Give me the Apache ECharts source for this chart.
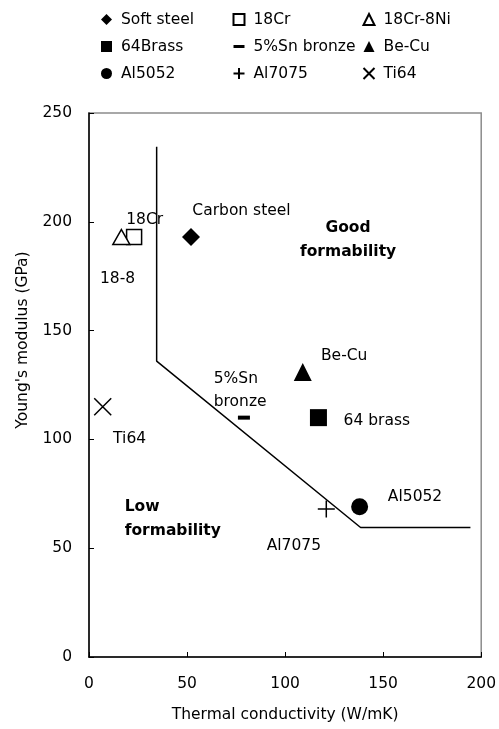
<!DOCTYPE html>
<html>
<head>
<meta charset="utf-8">
<script src="https://cdn.jsdelivr.net/npm/echarts@6/dist/echarts.min.js"></script>
<style>html,body{margin:0;padding:0;background:#fff}#c{width:499px;height:729px}</style>
</head>
<body>
<div id="c"></div>
<script>
// ---- data ----
const seriesNames = ['Soft steel', '18Cr', '18Cr-8Ni', '64Brass', '5%Sn bronze', 'Be-Cu', 'Al5052', 'Al7075', 'Ti64'];
const conductivity = [52, 23, 16.5, 117, 79, 109, 138, 121, 7];
const modulus = [193, 193, 193, 110, 110, 131, 69, 68, 115];

const boundaryX = [34.5, 34.5, 138.5, 194.5];
const boundaryY = [234.5, 136, 59.5, 59.5];

const annotTexts = ['18Cr', 'Carbon steel', '18-8', 'Ti64', 'Be-Cu', '5%Sn\nbronze', '64 brass', 'Al5052', 'Al7075'];
const annotX = [19.0, 52.7, 5.6, 12.3, 118.3, 63.6, 129.8, 152.4, 90.6];
const annotY = [200.8, 205.1, 173.7, 100.0, 138.5, 122.7, 108.6, 73.4, 51.1];

const regionTexts = ['Good\nformability', 'Low\nformability'];
const regionX = [132.1, 18.2];
const regionY = [191.6, 63.4];

const xTicks = [0, 50, 100, 150, 200];
const yTicks = [0, 50, 100, 150, 200, 250];

const legendCols = [
  ['Soft steel', '64Brass', 'Al5052'],
  ['18Cr', '5%Sn bronze', 'Al7075'],
  ['18Cr-8Ni', 'Be-Cu', 'Ti64']
];

// ---- styles ----
const FONT = '"DejaVu Sans", "Noto Sans", sans-serif';
const symbolStyles = {
  'Soft steel': {symbol: 'diamond', size: 18, fill: '#000'},
  '18Cr': {symbol: 'rect', size: 15, fill: '#fff', border: 1.5},
  '18Cr-8Ni': {symbol: 'triangle', size: [17, 15], fill: '#fff', border: 1.5},
  '64Brass': {symbol: 'rect', size: 17, fill: '#000'},
  '5%Sn bronze': {symbol: 'rect', size: [12, 4], fill: '#000'},
  'Be-Cu': {symbol: 'triangle', size: [18, 18], fill: '#000'},
  'Al5052': {symbol: 'circle', size: 17, fill: '#000'},
  'Al7075': {symbol: 'path://M0,5H10M5,0V10', size: 17, fill: 'none', border: 1.5},
  'Ti64': {symbol: 'path://M0,0L10,10M10,0L0,10', size: 17, fill: 'none', border: 1.5}
};

const series = seriesNames.map((name, i) => {
  const st = symbolStyles[name];
  return {
    name: name,
    type: 'scatter',
    symbol: st.symbol,
    symbolSize: st.size,
    itemStyle: {
      color: st.fill,
      borderColor: '#000',
      borderWidth: st.border || 0,
      opacity: 1
    },
    emphasis: {disabled: true},
    data: [[conductivity[i], modulus[i]]],
    z: 5
  };
});

series.push({
  name: 'boundary',
  type: 'line',
  data: boundaryX.map((x, i) => [x, boundaryY[i]]),
  symbol: 'none',
  lineStyle: {color: '#000', width: 1.5},
  emphasis: {disabled: true},
  z: 3
});

series.push({
  name: 'annotations',
  type: 'scatter',
  symbolSize: 0,
  silent: true,
  itemStyle: {opacity: 1, color: '#000'},
  data: annotX.map((x, i) => ({value: [x, annotY[i]], label: {formatter: annotTexts[i]}})),
  label: {
    show: true, position: 'inside', align: 'left', verticalAlign: 'middle',
    color: '#000', fontSize: 15.5, fontFamily: FONT, lineHeight: 23,
    textBorderWidth: 0, opacity: 1
  },
  z: 6
});

series.push({
  name: 'regions',
  type: 'scatter',
  symbolSize: 0,
  silent: true,
  itemStyle: {opacity: 1, color: '#000'},
  data: regionX.map((x, i) => ({value: [x, regionY[i]], label: {formatter: regionTexts[i], align: i === 0 ? 'center' : 'left'}})),
  label: {
    show: true, position: 'inside', verticalAlign: 'middle',
    color: '#000', fontSize: 15.5, fontWeight: 'bold', fontFamily: FONT, lineHeight: 24,
    textBorderWidth: 0, opacity: 1
  },
  z: 6
});

const legendLefts = [101, 231, 361];
const legends = legendCols.map((col, k) => ({
  orient: 'vertical',
  left: legendLefts[k],
  top: 11,
  itemWidth: 11,
  itemHeight: 11,
  itemGap: 10,
  padding: 0,
  selectedMode: false,
  data: col.map(n => n === '5%Sn bronze' ? {name: n, icon: 'path://M0,0H4V1.1H0Z'} : n),
  textStyle: {fontSize: 15.5, fontFamily: FONT, color: '#000', lineHeight: 17, padding: [0, 0, 0, 4]}
}));

const option = {
  animation: false,
  backgroundColor: '#fff',
  legend: legends,
  grid: {left: 89, right: 14, top: 113, bottom: 72, show: true, borderColor: '#8c8c8c', borderWidth: 1.5, containLabel: false},
  xAxis: {
    type: 'value', min: xTicks[0], max: xTicks[xTicks.length - 1], interval: 50,
    name: 'Thermal conductivity (W/mK)', nameLocation: 'middle', nameGap: 50,
    nameTextStyle: {fontSize: 15.5, fontFamily: FONT, color: '#000'},
    axisLine: {show: true, lineStyle: {color: '#000', width: 1.5}},
    axisTick: {show: true, inside: true, length: 5, lineStyle: {color: '#000'}},
    axisLabel: {fontSize: 15.5, fontFamily: FONT, color: '#000', margin: 19},
    splitLine: {show: false}
  },
  yAxis: {
    type: 'value', min: yTicks[0], max: yTicks[yTicks.length - 1], interval: 50,
    name: "Young's modulus (GPa)", nameLocation: 'middle', nameGap: 58,
    nameTextStyle: {fontSize: 15.5, fontFamily: FONT, color: '#000', padding: [0, 0, 0, 90]},
    axisLine: {show: true, lineStyle: {color: '#000', width: 1.5}},
    axisTick: {show: true, inside: true, length: 5, lineStyle: {color: '#000'}},
    axisLabel: {fontSize: 15.5, fontFamily: FONT, color: '#000', margin: 17},
    splitLine: {show: false}
  },
  series: series
};

const chart = echarts.init(document.getElementById('c'), null, {renderer: 'canvas'});
chart.setOption(option);
</script>
</body>
</html>
